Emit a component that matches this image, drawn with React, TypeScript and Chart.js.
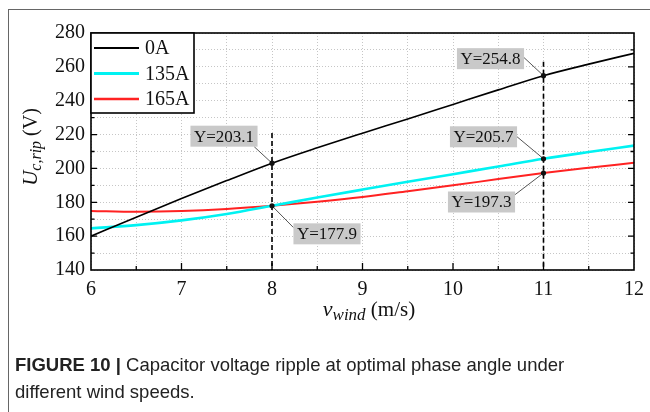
import { useEffect, useRef } from 'react';
import { Chart, registerables } from 'chart.js';

Chart.register(...registerables);

// Wind speed samples (m/s)
const windSpeeds = [6, 6.5, 7, 7.5, 8, 8.5, 9, 9.5, 10, 10.5, 11, 11.5, 12];
// Capacitor voltage ripple (V) for each injected current
const ripple0A = [160, 171.2, 182.2, 192.8, 203.1, 212.2, 220.8, 229.2, 237.8, 246.4, 254.8, 261.6, 268];
const ripple135A = [164.6, 166.5, 169.3, 173.1, 177.9, 182.8, 187.5, 192.1, 196.6, 201.1, 205.7, 209.7, 213.5];
const ripple165A = [174.9, 174.4, 174.8, 176.0, 177.9, 180.3, 183.1, 186.5, 190.0, 193.7, 197.3, 200.4, 203.3];

const seriesNames = ['0A', '135A', '165A'];
const seriesColors = ['#000000', '#00f2f2', '#ff2222'];
const seriesWidths = [1.6, 2.6, 2];

// Axis ranges
const xMin = 6, xMax = 12, xStep = 0.5;
const yMin = 140, yMax = 280, yStep = 10, yLabelStep = 20;

// Vertical dashed markers: wind speed and the value where the dashed line starts
const markerSpeeds = [8, 11];
const markerTops = [221, 263];

// Value callouts: series index, wind speed, box offset (px) and leader anchor on the box
const callouts = [
  { series: 0, speed: 8, dx: -48, dy: -27, ax: 0.9, ay: 1 },
  { series: 1, speed: 8, dx: 55, dy: 28, ax: -1, ay: -0.6 },
  { series: 0, speed: 11, dx: -53, dy: -17, ax: 1, ay: -0.1 },
  { series: 1, speed: 11, dx: -60, dy: -22, ax: 1, ay: 0 },
  { series: 2, speed: 11, dx: -62, dy: 29, ax: 1, ay: -0.7 },
];

const SERIF = "'Liberation Serif', 'Times New Roman', serif";

function drawRuns(ctx: CanvasRenderingContext2D, runs: { text: string; font: string; dy: number }[], x: number, y: number) {
  let cx = x;
  for (const r of runs) {
    ctx.font = r.font;
    ctx.fillText(r.text, cx, y + r.dy);
    cx += ctx.measureText(r.text).width;
  }
}

function runsWidth(ctx: CanvasRenderingContext2D, runs: { text: string; font: string }[]) {
  let w = 0;
  for (const r of runs) {
    ctx.font = r.font;
    w += ctx.measureText(r.text).width;
  }
  return w;
}

const decorPlugin = {
  id: 'decor',
  afterDatasetsDraw(chart: any) {
    const ctx: CanvasRenderingContext2D = chart.ctx;
    const xs = chart.scales.x;
    const ys = chart.scales.y;
    const area = chart.chartArea;

    ctx.save();
    // plot frame
    ctx.strokeStyle = '#000';
    ctx.lineWidth = 1.6;
    ctx.strokeRect(area.left, area.top, area.right - area.left, area.bottom - area.top);

    // inward tick marks
    ctx.lineWidth = 1.3;
    ctx.beginPath();
    for (let v = xMin + xStep; v < xMax; v += xStep) {
      const px = xs.getPixelForValue(v);
      const len = Number.isInteger(v) ? 7 : 4;
      ctx.moveTo(px, area.bottom);
      ctx.lineTo(px, area.bottom - len);
    }
    for (let v = yMin + yStep; v < yMax; v += yStep) {
      const py = ys.getPixelForValue(v);
      const len = v % yLabelStep === 0 ? 6 : 3.5;
      ctx.moveTo(area.left, py);
      ctx.lineTo(area.left + len, py);
      ctx.moveTo(area.right, py);
      ctx.lineTo(area.right - len, py);
    }
    ctx.stroke();

    // dashed markers
    ctx.lineWidth = 1.6;
    ctx.setLineDash([5, 3]);
    ctx.beginPath();
    markerSpeeds.forEach((s, i) => {
      const px = xs.getPixelForValue(s);
      ctx.moveTo(px, ys.getPixelForValue(markerTops[i]));
      ctx.lineTo(px, area.bottom);
    });
    ctx.stroke();
    ctx.setLineDash([]);

    // callouts
    for (const c of callouts) {
      const ds = chart.data.datasets[c.series];
      const pt = ds.data.find((p: any) => p.x === c.speed);
      const px = xs.getPixelForValue(pt.x);
      const py = ys.getPixelForValue(pt.y);
      const label = 'Y=' + pt.y.toFixed(1);
      ctx.font = `17px ${SERIF}`;
      const tw = ctx.measureText(label).width;
      const bw = tw + 7;
      const bh = 21;
      const cx = px + c.dx;
      const cy = py + c.dy;
      // leader
      ctx.strokeStyle = '#555';
      ctx.lineWidth = 1;
      ctx.beginPath();
      ctx.moveTo(cx + (c.ax * bw) / 2, cy + (c.ay * bh) / 2);
      ctx.lineTo(px, py);
      ctx.stroke();
      // box
      ctx.fillStyle = '#c9c9c9';
      ctx.fillRect(cx - bw / 2, cy - bh / 2, bw, bh);
      ctx.fillStyle = '#111';
      ctx.textAlign = 'center';
      ctx.textBaseline = 'middle';
      ctx.fillText(label, cx, cy + 1);
      // point
      ctx.beginPath();
      ctx.arc(px, py, 2.6, 0, Math.PI * 2);
      ctx.fill();
    }
    ctx.restore();
  },
  afterDraw(chart: any) {
    const ctx: CanvasRenderingContext2D = chart.ctx;
    const area = chart.chartArea;
    ctx.save();

    // legend box
    const lx = area.left, ly = area.top, lw = 103, lh = 80;
    ctx.fillStyle = '#fff';
    ctx.fillRect(lx, ly, lw, lh);
    ctx.strokeStyle = '#000';
    ctx.lineWidth = 1.6;
    ctx.strokeRect(lx, ly, lw, lh);
    chart.data.datasets.forEach((ds: any, i: number) => {
      const yy = ly + 15 + i * 25.5;
      ctx.strokeStyle = ds.borderColor;
      ctx.lineWidth = ds.borderWidth + 0.4;
      ctx.beginPath();
      ctx.moveTo(lx + 3, yy);
      ctx.lineTo(lx + 48, yy);
      ctx.stroke();
      ctx.fillStyle = '#111';
      ctx.font = `20px ${SERIF}`;
      ctx.textAlign = 'left';
      ctx.textBaseline = 'middle';
      ctx.fillText(ds.label, lx + 54, yy + 1);
    });

    // axis titles
    ctx.fillStyle = '#111';
    ctx.textAlign = 'left';
    ctx.textBaseline = 'alphabetic';
    const xRuns = [
      { text: 'v', font: `italic 22px ${SERIF}`, dy: 0 },
      { text: 'wind', font: `italic 17px ${SERIF}`, dy: 4 },
      { text: ' (m/s)', font: `21px ${SERIF}`, dy: 0 },
    ];
    const xw = runsWidth(ctx, xRuns);
    drawRuns(ctx, xRuns, 369 - xw / 2, 316);

    const yRuns = [
      { text: 'U', font: `italic 21px ${SERIF}`, dy: 0 },
      { text: 'c,rip', font: `italic 16px ${SERIF}`, dy: 4 },
      { text: ' (V)', font: `20px ${SERIF}`, dy: 0 },
    ];
    const yw = runsWidth(ctx, yRuns);
    ctx.translate(37, 147);
    ctx.rotate(-Math.PI / 2);
    drawRuns(ctx, yRuns, -yw / 2, 0);
    ctx.restore();
  },
};

export default function App() {
  const canvasRef = useRef<HTMLCanvasElement | null>(null);

  useEffect(() => {
    const canvas = canvasRef.current;
    if (!canvas) return;
    const series = [ripple0A, ripple135A, ripple165A];
    const chart = new Chart(canvas, {
      type: 'line',
      data: {
        datasets: series.map((vals, i) => ({
          label: seriesNames[i],
          data: windSpeeds.map((x, j) => ({ x, y: vals[j] })),
          borderColor: seriesColors[i],
          backgroundColor: seriesColors[i],
          borderWidth: seriesWidths[i],
          pointRadius: 0,
          cubicInterpolationMode: 'monotone' as const,
          fill: false,
        })),
      },
      options: {
        responsive: false,
        animation: false,
        events: [],
        layout: { padding: { top: 33, right: 16, left: 0, bottom: 0 } },
        plugins: { legend: { display: false }, tooltip: { enabled: false }, title: { display: false } },
        scales: {
          x: {
            type: 'linear',
            min: xMin,
            max: xMax,
            afterFit: (s: any) => {
              s.height = 142;
              s.paddingLeft = 0;
              s.paddingRight = 0;
            },
            ticks: {
              stepSize: xStep,
              autoSkip: false,
              maxRotation: 0,
              padding: 8,
              color: '#111',
              font: { family: SERIF, size: 20 },
              callback: (v: any) => (Number.isInteger(v) ? String(v) : ''),
            },
            grid: { color: '#c6c6c6', lineWidth: 1, drawTicks: false },
            border: { display: false, dash: [1, 2] },
          },
          y: {
            type: 'linear',
            min: yMin,
            max: yMax,
            afterFit: (s: any) => {
              s.width = 91;
              s.paddingTop = 0;
              s.paddingBottom = 0;
            },
            ticks: {
              stepSize: yStep,
              autoSkip: false,
              padding: 6,
              color: '#111',
              font: { family: SERIF, size: 20 },
              callback: (v: any) => (v % yLabelStep === 0 ? String(v) : ''),
            },
            grid: { color: '#c6c6c6', lineWidth: 1, drawTicks: false },
            border: { display: false, dash: [1, 2] },
          },
        },
      },
      plugins: [decorPlugin],
    });
    return () => chart.destroy();
  }, []);

  return (
    <div style={{ position: 'absolute', left: 0, top: 0, width: 650, height: 412, background: '#fff', overflow: 'hidden' }}>
      <div style={{ position: 'absolute', left: 8, top: 9, width: 660, height: 420, borderLeft: '1px solid #666', borderTop: '1px solid #666' }} />
      <canvas ref={canvasRef} width={650} height={412} style={{ position: 'absolute', left: 0, top: 0 }} />
      <div
        style={{
          position: 'absolute',
          left: 15,
          top: 351,
          width: 630,
          fontFamily: "'Liberation Sans', Arial, sans-serif",
          fontSize: 18.5,
          lineHeight: '27px',
          color: '#222',
          whiteSpace: 'nowrap',
        }}
      >
        <span style={{ fontWeight: 'bold' }}>FIGURE 10 |</span> Capacitor voltage ripple at optimal phase angle under
        <br />
        different wind speeds.
      </div>
    </div>
  );
}
